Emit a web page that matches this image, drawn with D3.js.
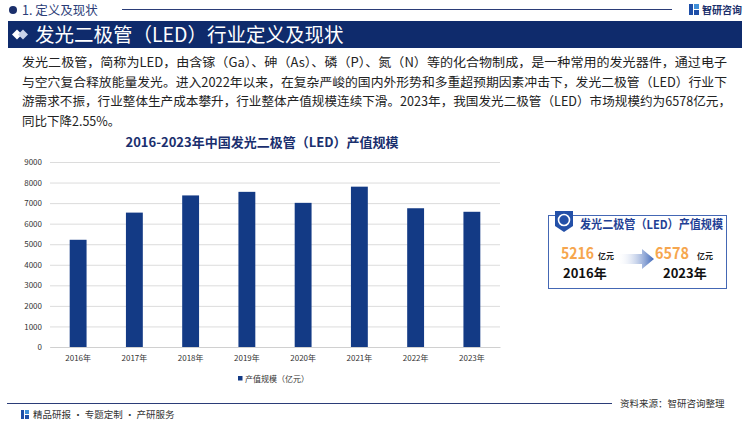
<!DOCTYPE html>
<html><head><meta charset="utf-8">
<script src="https://cdn.jsdelivr.net/npm/d3@7/dist/d3.min.js"></script>
<style>body{margin:0;background:#fff;}svg{display:block;font-family:"Noto Sans CJK SC","Noto Sans",sans-serif;}</style>
</head><body><svg id="c" width="750" height="422"></svg>
<script>
const years = ["2016年","2017年","2018年","2019年","2020年","2021年","2022年","2023年"];
const values = [5216, 6538, 7374, 7548, 7013, 7800, 6750, 6578];
const yTicks = [0,1000,2000,3000,4000,5000,6000,7000,8000,9000];
const seriesName = "产值规模（亿元）";
const paragraph = [
  "发光二极管，简称为LED，由含镓（Ga）、砷（As）、磷（P）、氮（N）等的化合物制成，是一种常用的发光器件，通过电子",
  "与空穴复合释放能量发光。进入2022年以来，在复杂严峻的国内外形势和多重超预期因素冲击下，发光二极管（LED）行业下",
  "游需求不振，行业整体生产成本攀升，行业整体产值规模连续下滑。2023年，我国发光二极管（LED）市场规模约为6578亿元，",
  "同比下降2.55%。"
];

const svg = d3.select("#c");
const navy = "#0f2b6c", bar = "#133a85";

// header
svg.append("circle").attr("cx",13).attr("cy",10).attr("r",4).attr("fill","#1b2f6b");
svg.append("text").attr("x",22).attr("y",14.5).attr("font-size",12.5).attr("fill","#2b3d78").text("1. 定义及现状");
svg.append("line").attr("x1",122).attr("x2",672).attr("y1",9.5).attr("y2",9.5).attr("stroke","#2b3d78").attr("stroke-width",1);
const lg = svg.append("g");
lg.append("rect").attr("x",689).attr("y",4).attr("width",4).attr("height",11).attr("fill","#1e4fa8");
lg.append("rect").attr("x",694).attr("y",4).attr("width",5).attr("height",5).attr("fill","#3f8fd8");
lg.append("rect").attr("x",694).attr("y",10).attr("width",5).attr("height",5).attr("fill","#1e4fa8");
svg.append("text").attr("x",702).attr("y",14).attr("font-size",10).attr("font-weight","bold").attr("fill","#1b2f6b").text("智研咨询");

// banner
svg.append("rect").attr("x",8).attr("y",21).attr("width",734).attr("height",27).attr("fill",navy);
svg.append("path").attr("d","M12,34.5 L17,29.5 L22,34.5 L17,39.5Z").attr("fill","#fff");
svg.append("path").attr("d","M18,34.5 L23,29.5 L28,34.5 L23,39.5Z").attr("fill","#c9d3ea");
svg.append("text").attr("x",35).attr("y",42).attr("font-size",19.5).attr("fill","#fff").text("发光二极管（LED）行业定义及现状");

// paragraph
const pY = [67, 86.5, 106, 125.5];
const pW = [705, 705, 709, null];
paragraph.forEach((t,i)=>{
  const tx = svg.append("text").attr("x",22).attr("y",pY[i]).attr("font-size",12.5).attr("fill","#222").text(t);
  if (pW[i]) tx.attr("textLength",pW[i]).attr("lengthAdjust","spacingAndGlyphs");
});

// chart title
svg.append("text").attr("x",262).attr("y",147).attr("text-anchor","middle").attr("font-size",13).attr("font-weight","bold")
  .attr("fill","#1a2f6e").text("2016-2023年中国发光二极管（LED）产值规模");

// chart
const x = d3.scaleBand().domain(years).range([50,500]).paddingInner(0.7).paddingOuter(0.35);
const y = d3.scaleLinear().domain([0,9000]).range([347,162]);
const gy = svg.append("g").attr("transform","translate(50,0)")
  .call(d3.axisLeft(y).tickValues(yTicks).tickSize(-450).tickFormat(d3.format("d")));
gy.select(".domain").remove();
gy.selectAll(".tick line").attr("stroke","#dcdcdc");
gy.selectAll(".tick text").attr("x",-8).attr("font-size",8).attr("fill","#333").attr("font-family","'Noto Sans CJK SC',sans-serif");
svg.selectAll(".bar").data(values).join("rect").attr("class","bar")
  .attr("x",(d,i)=>x(years[i])).attr("width",x.bandwidth())
  .attr("y",d=>y(d)).attr("height",d=>y(0)-y(d)).attr("fill",bar);
const gx = svg.append("g").attr("transform","translate(0,347)").call(d3.axisBottom(x).tickSize(0));
gx.select(".domain").attr("stroke","#d0d0d0");
gx.selectAll(".tick text").attr("dy",11).attr("font-size",8).attr("fill","#333").attr("font-family","'Noto Sans CJK SC',sans-serif");

// legend
svg.append("rect").attr("x",238).attr("y",376).attr("width",4.5).attr("height",4.5).attr("fill",bar);
svg.append("text").attr("x",245).attr("y",381.5).attr("font-size",8).attr("fill","#333").text(seriesName);

// right box
svg.append("rect").attr("x",548.5).attr("y",215.5).attr("width",178).attr("height",73).attr("fill","#fff").attr("stroke","#4467b4").attr("stroke-width",1);
svg.append("path").attr("d","M555,211 L573,211 L573,226 L564,232 L555,226Z").attr("fill","#2350a8");
svg.append("circle").attr("cx",564).attr("cy",220).attr("r",5.5).attr("fill","none").attr("stroke","#fff").attr("stroke-width",1.6);
svg.append("text").attr("x",580).attr("y",228.5).attr("font-size",12).attr("font-weight","bold").attr("fill","#1f3f95")
  .attr("textLength",143).attr("lengthAdjust","spacingAndGlyphs").text("发光二极管（LED）产值规模");
const grad = svg.append("defs").append("linearGradient").attr("id","ag");
grad.append("stop").attr("offset","0%").attr("stop-color","#ffffff").attr("stop-opacity",0);
grad.append("stop").attr("offset","100%").attr("stop-color","#3d66b8");
svg.append("path").attr("d","M617,254 L642,254 L642,249 L654,259 L642,269 L642,264 L617,264Z").attr("fill","url(#ag)");
svg.append("text").attr("x",561).attr("y",259).attr("font-size",15.5).attr("font-weight","bold").attr("fill","#f6a64e")
  .attr("textLength",33).attr("lengthAdjust","spacingAndGlyphs").text("5216");
svg.append("text").attr("x",598).attr("y",258.5).attr("font-size",8).attr("font-weight","bold").attr("fill","#222").text("亿元");
svg.append("text").attr("x",563).attr("y",278).attr("font-size",13).attr("font-weight","bold").attr("fill","#111").text("2016年");
svg.append("text").attr("x",655).attr("y",259).attr("font-size",15.5).attr("font-weight","bold").attr("fill","#f6a64e")
  .attr("textLength",34).attr("lengthAdjust","spacingAndGlyphs").text("6578");
svg.append("text").attr("x",697).attr("y",258.5).attr("font-size",8).attr("font-weight","bold").attr("fill","#222").text("亿元");
svg.append("text").attr("x",663).attr("y",278).attr("font-size",13).attr("font-weight","bold").attr("fill","#111").text("2023年");

// footer
svg.append("line").attr("x1",7).attr("x2",612).attr("y1",403.5).attr("y2",403.5).attr("stroke","#2b3d78").attr("stroke-width",1);
svg.append("text").attr("x",620).attr("y",407).attr("font-size",9.5).attr("fill","#333").text("资料来源：智研咨询整理");
svg.append("rect").attr("x",21).attr("y",410).attr("width",3).attr("height",9).attr("fill","#1e4fa8");
svg.append("rect").attr("x",25).attr("y",410).attr("width",4).attr("height",4).attr("fill","#3f8fd8");
svg.append("rect").attr("x",25).attr("y",415).attr("width",4).attr("height",4).attr("fill","#1e4fa8");
svg.append("text").attr("x",33).attr("y",418).attr("font-size",9.5).attr("fill","#333").text("精品研报 · 专题定制 · 产研服务");
</script></body></html>
